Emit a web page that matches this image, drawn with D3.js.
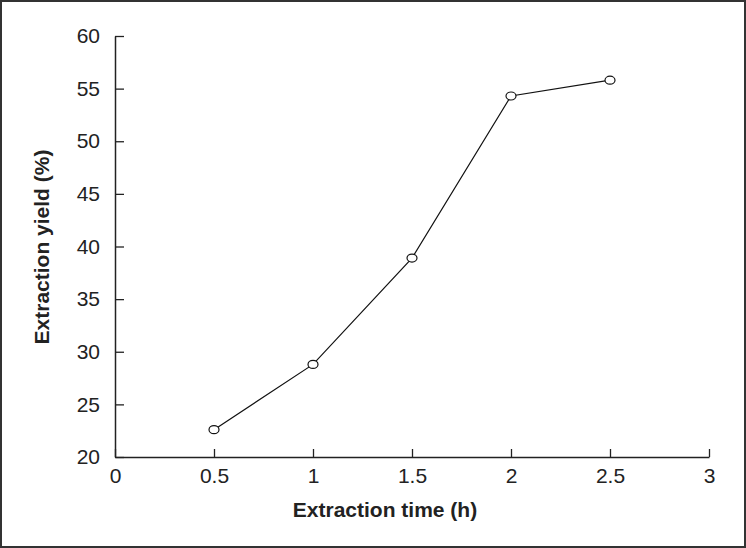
<!DOCTYPE html>
<html><head><meta charset="utf-8">
<script src="https://cdn.jsdelivr.net/npm/d3@7"></script>
<style>body{margin:0;background:#fff}svg{display:block}</style>
</head><body><div id="c"></div>
<script>
const timeH = [0.5, 1, 1.5, 2, 2.5];
const yieldPct = [22.6, 28.8, 38.9, 54.3, 55.8];
const xTicks = [0, 0.5, 1, 1.5, 2, 2.5, 3];
const yTicks = [20, 25, 30, 35, 40, 45, 50, 55, 60];
const xTitle = "Extraction time (h)";
const yTitle = "Extraction yield (%)";

const W = 746, H = 548;
const svg = d3.select("#c").append("svg").attr("width", W).attr("height", H);
svg.append("rect").attr("x",1).attr("y",1).attr("width",W-2).attr("height",H-2)
  .attr("fill","#fff").attr("stroke","#333").attr("stroke-width",2);

const x = d3.scaleLinear().domain([0,3]).range([115,709]);
const y = d3.scaleLinear().domain([20,60]).range([457,36]);
const font = "Liberation Sans, Arial, sans-serif";

const xa = svg.append("g").attr("transform","translate(0,457)")
  .call(d3.axisBottom(x).tickValues(xTicks).tickFormat(d3.format("")).tickSizeInner(-8).tickSizeOuter(0).tickPadding(11));
const ya = svg.append("g").attr("transform","translate(115,0)")
  .call(d3.axisLeft(y).tickValues(yTicks).tickSizeInner(-9).tickSizeOuter(0).tickPadding(15));
[xa,ya].forEach(a=>{
  a.select(".domain").attr("stroke","#222").attr("stroke-width",1.5);
  a.selectAll(".tick line").attr("stroke","#222").attr("stroke-width",1.3);
  a.selectAll("text").attr("font-family",font).attr("font-size",21).attr("fill","#222");
});
xa.selectAll("text").attr("dy","0.71em");

svg.append("path").datum(timeH.map((t,i)=>[t,yieldPct[i]]))
  .attr("fill","none").attr("stroke","#111").attr("stroke-width",1.2)
  .attr("d", d3.line().x(d=>x(d[0])).y(d=>y(d[1])));
svg.selectAll("ellipse.m").data(timeH.map((t,i)=>[t,yieldPct[i]])).join("ellipse")
  .attr("cx",d=>x(d[0])).attr("cy",d=>y(d[1])).attr("rx",5).attr("ry",4)
  .attr("fill","#fff").attr("stroke","#111").attr("stroke-width",1.2);

svg.append("text").attr("x",385).attr("y",517).attr("text-anchor","middle")
  .attr("font-family",font).attr("font-weight","bold").attr("font-size",21).attr("fill","#222").text(xTitle);
svg.append("text").attr("transform","translate(49,247) rotate(-90)").attr("text-anchor","middle")
  .attr("font-family",font).attr("font-weight","bold").attr("font-size",21).attr("fill","#222").text(yTitle);
</script></body></html>
